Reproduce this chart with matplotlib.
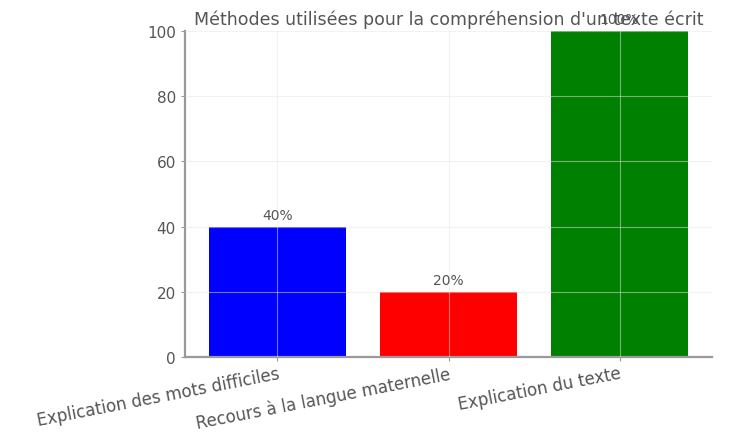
import matplotlib.pyplot as plt

# Survey results: methods used to understand a written text
methods = ["Explication des mots difficiles", "Recours à la langue maternelle", "Explication du texte"]
percentages = [40, 20, 100]
bar_colors = ["blue", "red", "green"]
title = "Méthodes utilisées pour la compréhension d'un texte écrit"

text_color = "#555555"

fig = plt.figure(figsize=(7.3, 4.39), dpi=100)
ax = fig.add_axes([185 / 730, 81 / 439, 527 / 730, 326 / 439])

bars = ax.bar(methods, percentages, color=bar_colors, width=0.8)

# percentage labels above each bar
for bar, value in zip(bars, percentages):
    ax.text(bar.get_x() + bar.get_width() / 2, value + 1.5, f"{value}%",
            ha="center", va="bottom", fontsize=10, color=text_color)

ax.set_ylim(0, 100)
ax.set_yticks(range(0, 101, 20))
ax.set_title(title, fontsize=12.5, color=text_color, pad=5)

ax.grid(True, color="#e6e6e6", linewidth=0.8, alpha=0.5)
ax.set_axisbelow(False)

for side in ["top", "right"]:
    ax.spines[side].set_visible(False)
for side in ["left", "bottom"]:
    ax.spines[side].set_color("#999999")
    ax.spines[side].set_linewidth(1.6)

ax.tick_params(axis="y", colors="#999999", labelcolor=text_color, labelsize=11, length=3)
ax.tick_params(axis="x", colors="#999999", labelcolor=text_color, labelsize=12, length=3, pad=2)
plt.setp(ax.get_xticklabels(), rotation=11, ha="right", rotation_mode="anchor")

fig.savefig("out.png", dpi=100)
